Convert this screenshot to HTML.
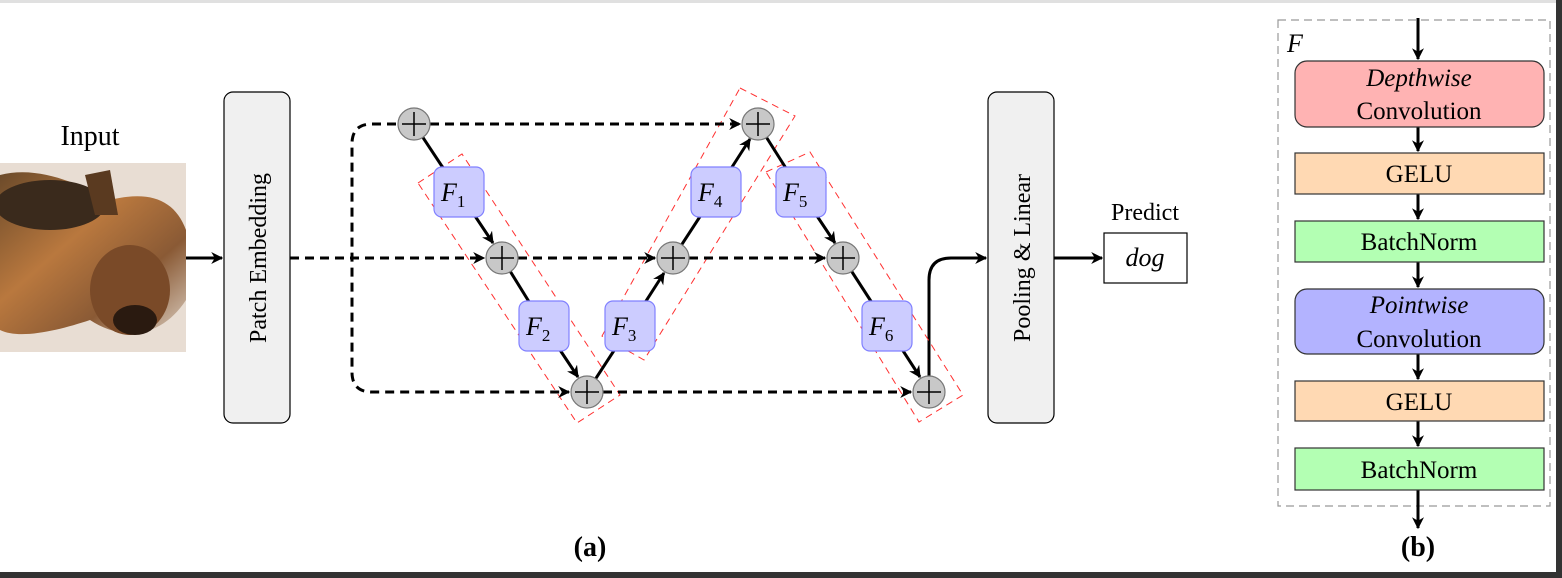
<!DOCTYPE html>
<html><head><meta charset="utf-8"><style>
html,body{margin:0;padding:0;background:#fff;}
svg{display:block;font-family:"Liberation Serif",serif;}
</style></head><body>
<svg width="1562" height="578" viewBox="0 0 1562 578" xmlns="http://www.w3.org/2000/svg">
<defs>
<marker id="ah" viewBox="0 0 10 10" refX="9" refY="5" markerWidth="4" markerHeight="4" orient="auto" markerUnits="strokeWidth">
<path d="M0,0 L10,5 L0,10 L3,5 z" fill="#000"/></marker>
<linearGradient id="dg" x1="0" y1="0" x2="1" y2="1">
<stop offset="0" stop-color="#6b4a2a"/><stop offset="0.4" stop-color="#b9783e"/><stop offset="0.7" stop-color="#8a5a35"/><stop offset="1" stop-color="#d9cbbd"/></linearGradient>
</defs>
<rect width="1562" height="578" fill="#fff"/>
<rect x="0" y="0" width="1562" height="3" fill="#e0e0e0"/>
<rect x="0" y="572" width="1562" height="6" fill="#333"/>
<rect x="1556" y="0" width="6" height="578" fill="#333"/>

<!-- input image -->
<text x="90" y="145" font-size="28" text-anchor="middle">Input</text>
<rect x="0" y="163" width="186" height="189" fill="#e8ddd3"/>
<path d="M0,175 C40,165 80,185 110,200 C150,190 175,200 186,230 L186,300 C160,340 120,340 90,320 C60,330 20,340 0,330 Z" fill="url(#dg)"/>
<ellipse cx="50" cy="205" rx="55" ry="25" fill="#3a2a1c"/>
<ellipse cx="130" cy="290" rx="40" ry="45" fill="#7a4a28"/>
<ellipse cx="135" cy="320" rx="22" ry="15" fill="#2a1a10"/>
<path d="M85,175 L110,170 L118,215 L95,215Z" fill="#5a3a20"/>

<!-- arrows main -->
<g stroke="#000" stroke-width="3" fill="none">
<line x1="186" y1="258" x2="222" y2="258" marker-end="url(#ah)"/>
<line x1="1054" y1="258" x2="1102" y2="258" marker-end="url(#ah)"/>
<path d="M929,376 L929,280 Q929,258 951,258 L986,258" marker-end="url(#ah)"/>
</g>
<rect x="224" y="92" width="66" height="331" rx="9" fill="#f0f0f0" stroke="#000" stroke-width="1.2"/>
<text transform="translate(266,258) rotate(-90)" font-size="24" text-anchor="middle">Patch Embedding</text>
<rect x="988" y="92" width="66" height="331" rx="9" fill="#f0f0f0" stroke="#000" stroke-width="1.2"/>
<text transform="translate(1030,258) rotate(-90)" font-size="24" text-anchor="middle">Pooling &amp; Linear</text>
<text x="1145" y="220" font-size="24" text-anchor="middle">Predict</text>
<rect x="1104" y="233" width="83" height="50" fill="#fff" stroke="#000" stroke-width="1.2"/>
<text x="1145" y="266" font-size="26" font-style="italic" text-anchor="middle">dog</text>

<!-- dashed red -->
<g stroke="#ff3030" stroke-width="1" fill="none" stroke-dasharray="7,5">
<polygon points="418,183 462,154 620,395 577,423"/>
<polygon points="740,88 795,116 644,360 602,336"/>
<polygon points="766,172 810,152 963,395 919,422"/>
</g>

<!-- dashed black -->
<g stroke="#000" stroke-width="3" fill="none" stroke-dasharray="9,6">
<line x1="290" y1="258" x2="484" y2="258" marker-end="url(#ah)"/>
<path d="M396,124 L372,124 Q352,124 352,144 L352,372 Q352,392 372,392 L569,392" marker-end="url(#ah)"/>
<line x1="430" y1="124" x2="740" y2="124" marker-end="url(#ah)"/>
<line x1="518" y1="258" x2="655" y2="258" marker-end="url(#ah)"/>
<line x1="689" y1="258" x2="825" y2="258" marker-end="url(#ah)"/>
<line x1="603" y1="392" x2="911" y2="392" marker-end="url(#ah)"/>
</g>

<!-- solid chain -->
<g stroke="#000" stroke-width="3" fill="none">
<line x1="414" y1="124" x2="459" y2="192"/>
<line x1="459" y1="192" x2="493" y2="243" marker-end="url(#ah)"/>
<line x1="502" y1="258" x2="544" y2="326"/>
<line x1="544" y1="326" x2="578" y2="377" marker-end="url(#ah)"/>
<line x1="587" y1="392" x2="630" y2="326"/>
<line x1="630" y1="326" x2="664" y2="273" marker-end="url(#ah)"/>
<line x1="673" y1="258" x2="716" y2="192"/>
<line x1="716" y1="192" x2="750" y2="139" marker-end="url(#ah)"/>
<line x1="758" y1="124" x2="801" y2="192"/>
<line x1="801" y1="192" x2="835" y2="243" marker-end="url(#ah)"/>
<line x1="843" y1="258" x2="887" y2="326"/>
<line x1="887" y1="326" x2="920" y2="377" marker-end="url(#ah)"/>
</g>

<!-- circles -->
<g fill="#c8c8c8" stroke="#777" stroke-width="1.2">
<circle cx="414" cy="124" r="16"/><circle cx="502" cy="258" r="16"/><circle cx="587" cy="392" r="16"/>
<circle cx="673" cy="258" r="16"/><circle cx="758" cy="124" r="16"/><circle cx="843" cy="258" r="16"/><circle cx="929" cy="392" r="16"/>
</g>
<g stroke="#000" stroke-width="1.5">
<path d="M402,124h24M414,112v24"/><path d="M490,258h24M502,246v24"/><path d="M575,392h24M587,380v24"/>
<path d="M661,258h24M673,246v24"/><path d="M746,124h24M758,112v24"/><path d="M831,258h24M843,246v24"/><path d="M917,392h24M929,380v24"/>
</g>

<!-- F boxes -->
<g fill="#ccccff" stroke="#8080ff" stroke-width="1.2">
<rect x="434" y="167" width="50" height="50" rx="8"/><rect x="519" y="301" width="50" height="50" rx="8"/>
<rect x="605" y="301" width="50" height="50" rx="8"/><rect x="691" y="167" width="50" height="50" rx="8"/>
<rect x="776" y="167" width="50" height="50" rx="8"/><rect x="862" y="301" width="50" height="50" rx="8"/>
</g>
<g font-size="26" font-style="italic">
<text x="441" y="201">F<tspan font-size="17" font-style="normal" dy="6">1</tspan></text>
<text x="526" y="335">F<tspan font-size="17" font-style="normal" dy="6">2</tspan></text>
<text x="612" y="335">F<tspan font-size="17" font-style="normal" dy="6">3</tspan></text>
<text x="698" y="201">F<tspan font-size="17" font-style="normal" dy="6">4</tspan></text>
<text x="783" y="201">F<tspan font-size="17" font-style="normal" dy="6">5</tspan></text>
<text x="869" y="335">F<tspan font-size="17" font-style="normal" dy="6">6</tspan></text>
</g>
<text x="590" y="556" font-size="28" font-weight="bold" text-anchor="middle">(a)</text>

<!-- panel b -->
<rect x="1278" y="20" width="272" height="486" fill="none" stroke="#999" stroke-width="1.2" stroke-dasharray="8,5"/>
<text x="1287" y="52" font-size="26" font-style="italic">F</text>
<g stroke="#000" stroke-width="3" fill="none">
<line x1="1418" y1="18" x2="1418" y2="59" marker-end="url(#ah)"/>
<line x1="1418" y1="127" x2="1418" y2="151" marker-end="url(#ah)"/>
<line x1="1418" y1="194" x2="1418" y2="219" marker-end="url(#ah)"/>
<line x1="1418" y1="262" x2="1418" y2="287" marker-end="url(#ah)"/>
<line x1="1418" y1="354" x2="1418" y2="379" marker-end="url(#ah)"/>
<line x1="1418" y1="421" x2="1418" y2="446" marker-end="url(#ah)"/>
<line x1="1418" y1="490" x2="1418" y2="528" marker-end="url(#ah)"/>
</g>
<g stroke="#333" stroke-width="1.2">
<rect x="1295" y="61" width="249" height="66" rx="12" fill="#ffb3b3"/>
<rect x="1295" y="153" width="249" height="41" fill="#ffd9b3"/>
<rect x="1295" y="221" width="249" height="41" fill="#b3ffb3"/>
<rect x="1295" y="289" width="249" height="65" rx="12" fill="#b3b3ff"/>
<rect x="1295" y="381" width="249" height="40" fill="#ffd9b3"/>
<rect x="1295" y="448" width="249" height="42" fill="#b3ffb3"/>
</g>
<g font-size="25" text-anchor="middle">
<text x="1419" y="86" font-style="italic">Depthwise</text>
<text x="1419" y="119">Convolution</text>
<text x="1419" y="182">GELU</text>
<text x="1419" y="250">BatchNorm</text>
<text x="1419" y="313" font-style="italic">Pointwise</text>
<text x="1419" y="347">Convolution</text>
<text x="1419" y="410">GELU</text>
<text x="1419" y="478">BatchNorm</text>
</g>
<text x="1418" y="556" font-size="28" font-weight="bold" text-anchor="middle">(b)</text>
</svg>
</body></html>
